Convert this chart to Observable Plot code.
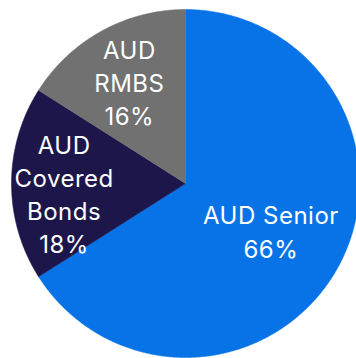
<!DOCTYPE html>
<html>
<head>
<meta charset="utf-8">
<script src="https://cdn.jsdelivr.net/npm/d3@7"></script>
<script src="https://cdn.jsdelivr.net/npm/@observablehq/plot@0.6"></script>
<style>
  html, body { margin: 0; padding: 0; background: #fff; }
  #chart svg { display: block; }
</style>
</head>
<body>
<div id="chart"></div>
<script>
// Data
const categories = ["AUD Senior", "AUD Covered Bonds", "AUD RMBS"];
const values = [66, 18, 16];
const labelLines = [["AUD Senior"], ["AUD", "Covered", "Bonds"], ["AUD", "RMBS"]];

// Styles
const colors = ["#0773E6", "#1D164A", "#717171"];
const labelRadius = [0.56, 0.70, 0.67];
const labelAngleShift = [0, -4.5, 0]; // degrees

const total = d3.sum(values);
const pie = d3.pie().sort(null).value(d => d.value)(
  categories.map((c, i) => ({ category: c, value: values[i], i }))
);

// Build slice polygons in unit-circle coordinates (y up), angle clockwise from top
const polys = [];
pie.forEach(p => {
  const steps = Math.max(2, Math.ceil((p.endAngle - p.startAngle) / (Math.PI / 360)));
  polys.push({ category: p.data.category, x: 0, y: 0 });
  for (let k = 0; k <= steps; k++) {
    const a = p.startAngle + (p.endAngle - p.startAngle) * k / steps;
    polys.push({ category: p.data.category, x: Math.sin(a), y: Math.cos(a) });
  }
  polys.push({ category: p.data.category, x: 0, y: 0 });
});

const labels = pie.map(p => {
  const i = p.data.i;
  const a = (p.startAngle + p.endAngle) / 2 + labelAngleShift[i] * Math.PI / 180;
  const r = labelRadius[i];
  return {
    x: r * Math.sin(a),
    y: r * Math.cos(a),
    text: [...labelLines[i], `${Math.round(p.data.value / total * 100)}%`].join("\n")
  };
});

const W = 356, H = 358;
const cx = 185, cy = 183, R = 174;

const chart = Plot.plot({
  width: W,
  height: H,
  margin: 0,
  style: { letterSpacing: "0.5px" },
  x: { domain: [-cx / R, (W - cx) / R], axis: null },
  y: { domain: [-(H - cy) / R, cy / R], axis: null },
  color: { domain: categories, range: colors },
  marks: [
    Plot.line(polys, { x: "x", y: "y", z: "category", fill: "category", stroke: "category", strokeWidth: 0.5, curve: "linear" }),
    Plot.text(labels, {
      x: "x", y: "y", text: "text",
      fill: "white",
      fontSize: 24,
      lineHeight: 1.38,
      lineAnchor: "middle",
      textAnchor: "middle",
      fontFamily: "Inter",
      fontWeight: 400
    })
  ]
});
document.getElementById("chart").appendChild(chart);
</script>
</body>
</html>
